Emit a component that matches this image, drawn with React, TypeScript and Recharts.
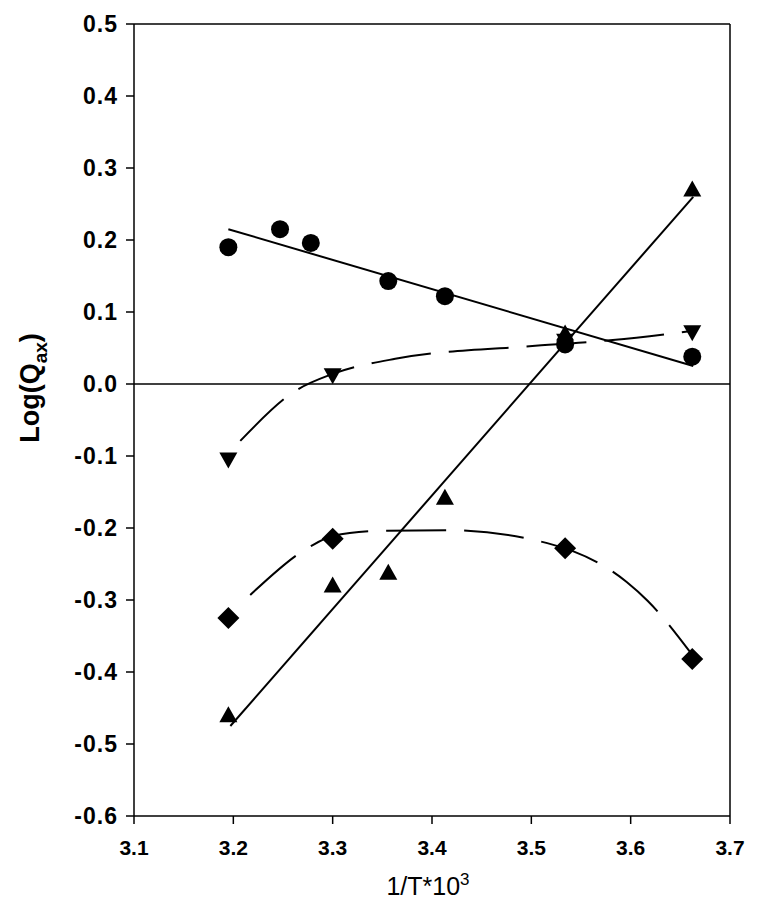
import React from 'react';
import {
  ComposedChart, Line, Scatter, XAxis, YAxis, ReferenceLine, Label
} from 'recharts';

// measured points
const circlePts = [
  { x: 3.195, y: 0.19 }, { x: 3.247, y: 0.215 }, { x: 3.278, y: 0.196 },
  { x: 3.356, y: 0.143 }, { x: 3.413, y: 0.122 }, { x: 3.534, y: 0.055 },
  { x: 3.662, y: 0.038 }
];
const upTriPts = [
  { x: 3.195, y: -0.46 }, { x: 3.3, y: -0.28 }, { x: 3.356, y: -0.262 },
  { x: 3.413, y: -0.158 }, { x: 3.534, y: 0.07 }, { x: 3.662, y: 0.27 }
];
const downTriPts = [
  { x: 3.195, y: -0.105 }, { x: 3.3, y: 0.012 }, { x: 3.534, y: 0.06 }, { x: 3.662, y: 0.072 }
];
const diamondPts = [
  { x: 3.195, y: -0.325 }, { x: 3.3, y: -0.215 }, { x: 3.534, y: -0.228 }, { x: 3.662, y: -0.382 }
];

// fitted lines / curves
const circleFit = [{ x: 3.195, y: 0.215 }, { x: 3.663, y: 0.025 }];
const upTriFit = [{ x: 3.197, y: -0.475 }, { x: 3.663, y: 0.26 }];
const downTriFit = [
  { x: 3.207, y: -0.079 }, { x: 3.262, y: -0.01 }, { x: 3.3, y: 0.014 },
  { x: 3.363, y: 0.035 }, { x: 3.504, y: 0.053 }, { x: 3.582, y: 0.061 }, { x: 3.663, y: 0.074 }
];
const diamondFit = [
  { x: 3.217, y: -0.293 }, { x: 3.277, y: -0.226 }, { x: 3.3, y: -0.211 },
  { x: 3.348, y: -0.204 }, { x: 3.415, y: -0.203 }, { x: 3.516, y: -0.221 },
  { x: 3.596, y: -0.275 }, { x: 3.617, y: -0.301 }, { x: 3.663, y: -0.378 }
];

const xTicks = [3.1, 3.2, 3.3, 3.4, 3.5, 3.6, 3.7];
const yTicks = [-0.6, -0.5, -0.4, -0.3, -0.2, -0.1, 0, 0.1, 0.2, 0.3, 0.4, 0.5];

const font = 'Arial, "Liberation Sans", sans-serif';

const Circle = (p: any) => <circle cx={p.cx} cy={p.cy} r={9} fill="#000" />;
const UpTri = (p: any) => (
  <polygon points={`${p.cx},${p.cy - 9} ${p.cx - 9},${p.cy + 7} ${p.cx + 9},${p.cy + 7}`} fill="#000" />
);
const DownTri = (p: any) => (
  <polygon points={`${p.cx},${p.cy + 9} ${p.cx - 9},${p.cy - 7} ${p.cx + 9},${p.cy - 7}`} fill="#000" />
);
const Diamond = (p: any) => (
  <polygon points={`${p.cx},${p.cy - 11} ${p.cx + 11},${p.cy} ${p.cx},${p.cy + 11} ${p.cx - 11},${p.cy}`} fill="#000" />
);

const YTitle = () => (
  <text
    x={22} y={380}
    transform="rotate(-90, 22, 380)"
    textAnchor="middle" dominantBaseline="central"
    style={{ fontFamily: font, fontWeight: 'bold', fontSize: 27 }} fill="#000"
  >
    Log(Q<tspan baselineShift="sub" fontSize={19}>ax</tspan>)
  </text>
);

const XTitle = ({ viewBox }: any) => (
  <text
    x={viewBox.x + viewBox.width / 2 - 4} y={887}
    textAnchor="middle" style={{ fontFamily: font, fontSize: 25 }} fill="#000"
  >
    1/T*10<tspan dy={-10} fontSize={17}>3</tspan>
  </text>
);

const App: React.FC = () => {
  return (
    <div style={{ width: 752, height: 898, background: '#fff' }}>
      <ComposedChart width={752} height={898} margin={{ top: 16, right: 30, bottom: 0, left: 0 }}>
        <XAxis
          type="number" dataKey="x" domain={[3.1, 3.7]} ticks={xTicks}
          tickFormatter={(v: number) => v.toFixed(1)} allowDataOverflow
          height={90} tickSize={8} tickMargin={16}
          stroke="#000" strokeWidth={1.5}
          tick={{ fill: '#000', fontFamily: font, fontWeight: 'bold', fontSize: 21 }}
        >
          <Label content={<XTitle />} />
        </XAxis>
        <YAxis
          type="number" dataKey="y" domain={[-0.6, 0.5]} ticks={yTicks}
          tickFormatter={(v: number) => v.toFixed(1)} allowDataOverflow
          width={126} tickSize={8} tickMargin={8}
          stroke="#000" strokeWidth={1.5}
          tick={{ fill: '#000', fontFamily: font, fontWeight: 'bold', fontSize: 23, letterSpacing: 1 }}
        >
          <Label content={<YTitle />} />
        </YAxis>
        <ReferenceLine y={0.5} stroke="#000" strokeWidth={1.5} />
        <ReferenceLine x={3.7} stroke="#000" strokeWidth={1.5} />
        <ReferenceLine y={0} stroke="#000" strokeWidth={1.5} />

        <Line data={circleFit} dataKey="y" type="linear" stroke="#000" strokeWidth={2} dot={false} isAnimationActive={false} />
        <Line data={upTriFit} dataKey="y" type="linear" stroke="#000" strokeWidth={2} dot={false} isAnimationActive={false} />
        <Line data={downTriFit} dataKey="y" type="monotone" stroke="#000" strokeWidth={2} strokeDasharray="60 18" dot={false} isAnimationActive={false} />
        <Line data={diamondFit} dataKey="y" type="monotone" stroke="#000" strokeWidth={2} strokeDasharray="60 18" dot={false} isAnimationActive={false} />

        <Scatter data={circlePts} dataKey="y" shape={Circle} isAnimationActive={false} />
        <Scatter data={upTriPts} dataKey="y" shape={UpTri} isAnimationActive={false} />
        <Scatter data={downTriPts} dataKey="y" shape={DownTri} isAnimationActive={false} />
        <Scatter data={diamondPts} dataKey="y" shape={Diamond} isAnimationActive={false} />
      </ComposedChart>
    </div>
  );
};

export default App;
